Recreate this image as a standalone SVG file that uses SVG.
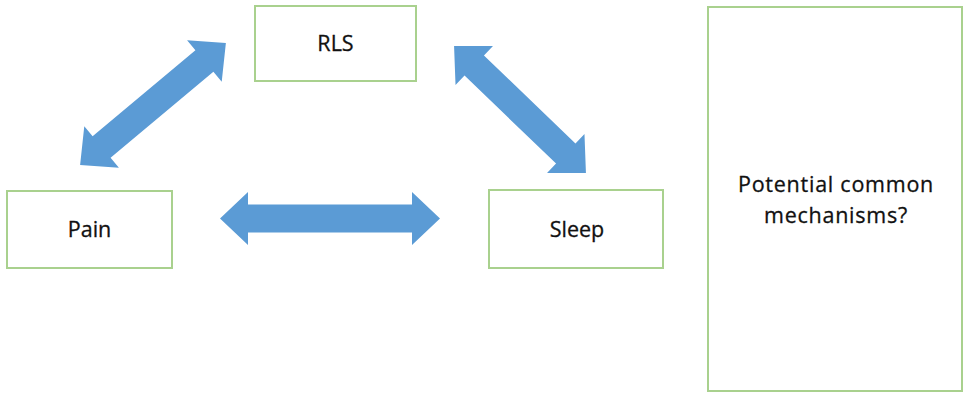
<svg xmlns="http://www.w3.org/2000/svg" width="964" height="394" viewBox="0 0 964 394">
<style>
.box{fill:#fff;stroke:#a9d18e;stroke-width:2}
.lbl{font-family:"Open Sans","Liberation Sans",sans-serif;font-size:21.5px;fill:#111;text-anchor:middle;stroke:#111;stroke-width:0.3}
.arr{fill:#5b9bd5}
</style>
<rect width="964" height="394" fill="#fff"/>
<g id="connectors">
<path class="arr" transform="translate(153,104) rotate(-39.9)" d="M-95 0L-67 -27L-67 -14L67 -14L67 -27L95 0L67 27L67 14L-67 14L-67 27Z"/>
<path class="arr" transform="translate(520,109.5) rotate(43.9)" d="M-91.5 0L-63.5 -27L-63.5 -14L63.5 -14L63.5 -27L91.5 0L63.5 27L63.5 14L-63.5 14L-63.5 27Z"/>
<path class="arr" transform="translate(330,218.5)" d="M-110 0L-82 -26.5L-82 -14L82 -14L82 -26.5L110 0L82 26.5L82 14L-82 14L-82 26.5Z"/>
</g>
<g id="rls">
<rect class="box" x="255" y="6" width="161" height="75"/>
<text class="lbl" x="335.5" y="51">RLS</text>
</g>
<g id="pain">
<rect class="box" x="7" y="191" width="165" height="77"/>
<text class="lbl" x="89.5" y="237">Pain</text>
</g>
<g id="sleep">
<rect class="box" x="489" y="190" width="174" height="78"/>
<text class="lbl" x="577" y="237">Sleep</text>
</g>
<g id="mechanisms">
<rect class="box" x="708" y="7" width="254" height="384"/>
<text class="lbl" x="836" y="192" letter-spacing="0.75">Potential common</text>
<text class="lbl" x="836" y="223" letter-spacing="0.75">mechanisms?</text>
</g>
</svg>
